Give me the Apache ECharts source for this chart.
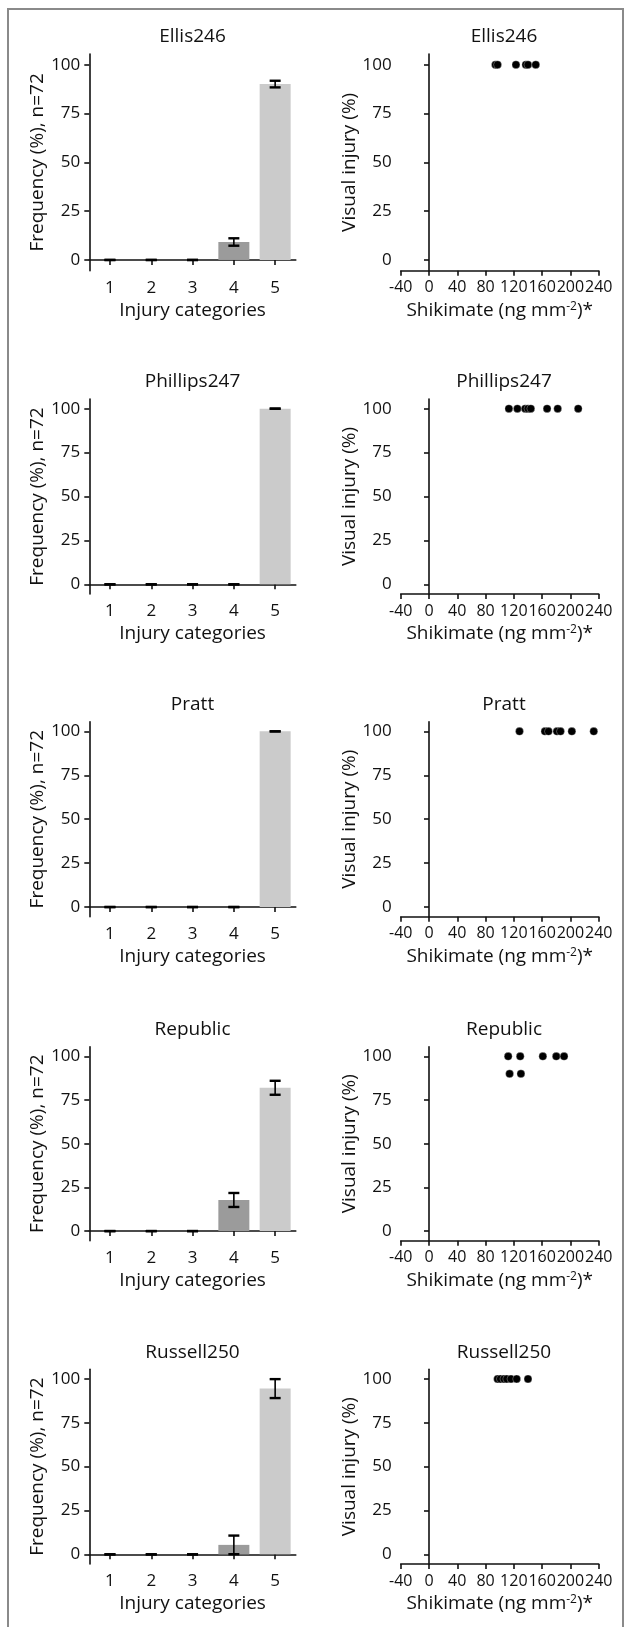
<!DOCTYPE html>
<html>
<head>
<meta charset="utf-8">
<script src="https://cdn.jsdelivr.net/npm/echarts@6/dist/echarts.min.js"></script>
<style>
  html, body { margin: 0; padding: 0; background: #ffffff; }
  #chart { width: 625px; height: 1627px; }
</style>
</head>
<body>
<div id="chart"></div>
<script>
// Varieties, one row of panels each
const varieties = ['Ellis246', 'Phillips247', 'Pratt', 'Republic', 'Russell250'];
const injuryCategories = ['1', '2', '3', '4', '5'];
const yTicks = [0, 25, 50, 75, 100];

// Frequency (%) of plants per injury category, with error bars
const freqEllis246 = [0, 0, 0, 9.2, 90.1];
const errEllis246 = [0, 0, 0, 1.9, 1.7];
const freqPhillips247 = [0, 0, 0, 0, 100];
const errPhillips247 = [0, 0, 0, 0, 0];
const freqPratt = [0, 0, 0, 0, 100];
const errPratt = [0, 0, 0, 0, 0];
const freqRepublic = [0, 0, 0, 17.8, 82];
const errRepublic = [0, 0, 0, 4, 4];
const freqRussell250 = [0, 0, 0, 5.4, 94.5];
const errRussell250 = [0, 0, 0, 5.3, 5.4];

// Shikimate (ng mm^-2) against visual injury (%)
const shikEllis246 = [94, 97, 123, 137, 140, 151];
const injEllis246 = [100, 100, 100, 100, 100, 100];
const shikPhillips247 = [113, 125, 136, 140, 144, 167, 182, 211];
const injPhillips247 = [100, 100, 100, 100, 100, 100, 100, 100];
const shikPratt = [128, 164, 169, 181, 186, 202, 233];
const injPratt = [100, 100, 100, 100, 100, 100, 100];
const shikRepublic = [112, 129, 161, 180, 191, 114, 130];
const injRepublic = [100, 100, 100, 100, 100, 90, 90];
const shikRussell250 = [97, 101, 106, 110, 116, 124, 140];
const injRussell250 = [100, 100, 100, 100, 100, 100, 100];

const freqs = [freqEllis246, freqPhillips247, freqPratt, freqRepublic, freqRussell250];
const errs = [errEllis246, errPhillips247, errPratt, errRepublic, errRussell250];
const shiks = [shikEllis246, shikPhillips247, shikPratt, shikRepublic, shikRussell250];
const injs = [injEllis246, injPhillips247, injPratt, injRepublic, injRussell250];

// Layout of the panel rows
const gridTops = [54, 399, 721.7, 1046.7, 1369.3];
const gridHeights = [216.7, 195, 195, 194, 194.7];
const leftX = 89.3, leftW = 206.5;
const rightX = 400.7, rightW = 198;

const FONT = 'Open Sans';
const INK = '#111111';
const barColors = ['#4d4d4d', '#666666', '#808080', '#9b9b9b', '#cbcbcb'];

const chart = echarts.init(document.getElementById('chart'), null, { renderer: 'canvas' });

const grids = [], xAxes = [], yAxes = [], series = [], graphics = [];

const axisLineStyle = { color: INK, width: 1.6 };

function yAxisFor(gi, name) {
  return {
    type: 'value', gridIndex: gi, min: -5.5, max: 105.5,
    name: name, nameLocation: 'middle', nameGap: 38, nameRotate: 90,
    nameTextStyle: { fontFamily: FONT, fontSize: 19, color: INK },
    axisLine: { show: true, lineStyle: axisLineStyle },
    axisTick: { show: true, length: 5, lineStyle: axisLineStyle, customValues: yTicks },
    axisLabel: { fontFamily: FONT, fontSize: 17, color: INK, margin: 9, customValues: yTicks },
    splitLine: { show: false }
  };
}

varieties.forEach((v, r) => {
  const top = gridTops[r], h = gridHeights[r];
  const gl = r * 2, gr = r * 2 + 1;
  grids.push({ left: leftX, top: top, width: leftW, height: h });
  grids.push({ left: rightX, top: top, width: rightW, height: h });

  // Bar panel axes
  xAxes.push({
    type: 'category', gridIndex: gl, data: injuryCategories, boundaryGap: true,
    name: 'Injury categories', nameLocation: 'middle', nameGap: 30,
    nameTextStyle: { fontFamily: FONT, fontSize: 19, color: INK },
    axisLine: { show: true, lineStyle: axisLineStyle },
    axisTick: { show: true, alignWithLabel: true, length: 5, lineStyle: axisLineStyle },
    axisLabel: { fontFamily: FONT, fontSize: 17, color: INK, margin: 9 }
  });
  yAxes.push(yAxisFor(gl, 'Frequency (%), n=72'));

  // Scatter panel axes
  xAxes.push({
    type: 'value', gridIndex: gr, min: -40, max: 240, interval: 40,
    name: '{a|Shikimate (ng mm}{s|-2}{a|)*}', nameLocation: 'middle', nameGap: 30,
    nameTextStyle: {
      fontFamily: FONT, fontSize: 19, color: INK,
      rich: {
        a: { fontFamily: FONT, fontSize: 19, color: INK, verticalAlign: 'bottom' },
        s: { fontFamily: FONT, fontSize: 12, color: INK, verticalAlign: 'top' }
      }
    },
    axisLine: { show: true, onZero: false, lineStyle: axisLineStyle },
    axisTick: { show: true, length: 5, lineStyle: axisLineStyle },
    axisLabel: { fontFamily: FONT, fontSize: 16, color: INK, margin: 9, showMinLabel: true, showMaxLabel: true, hideOverlap: false },
    splitLine: { show: false }
  });
  yAxes.push(yAxisFor(gr, 'Visual injury (%)'));

  series.push({
    type: 'bar', xAxisIndex: gl, yAxisIndex: gl, barWidth: 31,
    data: freqs[r].map((val, i) => ({ value: val, itemStyle: { color: barColors[i] } })),
    z: 2
  });
  series.push({
    type: 'custom', xAxisIndex: gl, yAxisIndex: gl, z: 3,
    data: freqs[r].map((val, i) => [i, val, errs[r][i]]),
    encode: { x: 0, y: 1 },
    renderItem: function (params, api) {
      const x = api.value(0), val = api.value(1), e = api.value(2);
      const hi = api.coord([x, val + e]);
      const lo = api.coord([x, val - e]);
      const hw = 5.5;
      const st = { stroke: '#000000', lineWidth: 2.4 };
      return {
        type: 'group',
        children: [
          { type: 'line', shape: { x1: hi[0], y1: hi[1], x2: lo[0], y2: lo[1] }, style: { stroke: '#000000', lineWidth: 1.6 } },
          { type: 'line', shape: { x1: hi[0] - hw, y1: hi[1], x2: hi[0] + hw, y2: hi[1] }, style: st },
          { type: 'line', shape: { x1: lo[0] - hw, y1: lo[1], x2: lo[0] + hw, y2: lo[1] }, style: st }
        ]
      };
    }
  });
  series.push({
    type: 'scatter', xAxisIndex: gr, yAxisIndex: gr, symbol: 'circle', symbolSize: 8,
    itemStyle: { color: '#000000', opacity: 1, borderColor: 'rgba(255,255,255,0.6)', borderWidth: 0.5 },
    data: shiks[r].map((x, i) => [x, injs[r][i]]),
    z: 3
  });

  // Panel titles
  graphics.push({
    type: 'text', x: 192.5, y: top - 17,
    style: { text: v, font: '19px "Open Sans"', fill: INK, textAlign: 'center', textVerticalAlign: 'middle' }
  });
  graphics.push({
    type: 'text', x: 504, y: top - 17,
    style: { text: v, font: '19px "Open Sans"', fill: INK, textAlign: 'center', textVerticalAlign: 'middle' }
  });
});

// Outer frame
graphics.push({
  type: 'rect', shape: { x: 8, y: 9, width: 615, height: 1660 },
  style: { fill: null, stroke: '#8a8a8a', lineWidth: 2 }, z: -1
});

chart.setOption({
  animation: false,
  backgroundColor: '#ffffff',
  textStyle: { fontFamily: FONT },
  grid: grids,
  xAxis: xAxes,
  yAxis: yAxes,
  series: series,
  graphic: graphics
});
</script>
</body>
</html>
